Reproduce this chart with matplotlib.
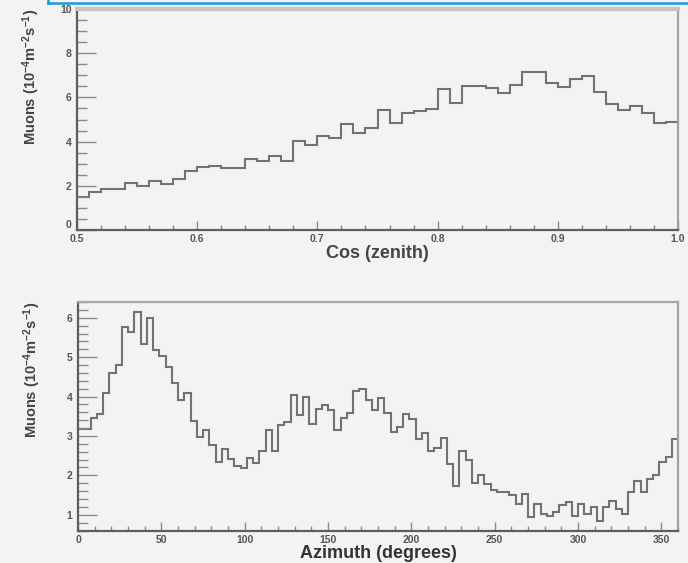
import numpy as np
import matplotlib
matplotlib.use("Agg")
import matplotlib.pyplot as plt
from matplotlib.lines import Line2D
from matplotlib.ticker import MultipleLocator, FixedLocator, FixedFormatter

# ---------------- data ----------------
zenith_range = [0.5, 1.0]
zenith_values = [1.51, 1.73, 1.84, 1.84, 2.11, 1.99, 2.23, 2.08, 2.29, 2.68,
                 2.86, 2.91, 2.79, 2.79, 3.20, 3.14, 3.35, 3.14, 4.04, 3.85,
                 4.25, 4.15, 4.80, 4.37, 4.60, 5.43, 4.83, 5.28, 5.40, 5.47,
                 6.37, 5.73, 6.52, 6.52, 6.41, 6.19, 6.56, 7.16, 7.16, 6.67,
                 6.46, 6.82, 6.97, 6.26, 5.70, 5.43, 5.61, 5.28, 4.86, 4.90]
zenith_ticks = [0.5, 0.6, 0.7, 0.8, 0.9, 1.0]
zenith_ticklabels = ["0.5", "0.6", "0.7", "0.8", "0.9", "1.0"]
zenith_yticks = [0, 2, 4, 6, 8, 10]

azimuth_range = [0, 360]
azimuth_values = [3.18, 3.18, 3.45, 3.56, 4.10, 4.60, 4.79, 5.76, 5.63, 6.14,
                  5.34, 5.99, 5.17, 5.04, 4.75, 4.35, 3.90, 4.10, 3.39, 2.97,
                  3.14, 2.78, 2.34, 2.67, 2.42, 2.23, 2.18, 2.44, 2.32, 2.63,
                  3.14, 2.63, 3.27, 3.35, 4.03, 3.52, 3.98, 3.31, 3.69, 3.79,
                  3.65, 3.14, 3.45, 3.59, 4.15, 4.20, 3.90, 3.65, 3.96, 3.59,
                  3.10, 3.22, 3.56, 3.44, 2.93, 3.08, 2.63, 2.69, 2.94, 2.29,
                  1.74, 2.63, 2.38, 1.81, 2.00, 1.79, 1.62, 1.57, 1.58, 1.49,
                  1.28, 1.53, 0.94, 1.28, 1.02, 0.98, 1.07, 1.24, 1.32, 0.98,
                  1.28, 1.02, 1.19, 0.85, 1.19, 1.34, 1.15, 1.02, 1.58, 1.85,
                  1.57, 1.90, 2.00, 2.34, 2.47, 2.93]
azimuth_ticks = [0, 50, 100, 150, 200, 250, 300, 350]
azimuth_yticks = [1, 2, 3, 4, 5, 6]
azimuth_ylim = [0.6, 6.4]

ylabel_text = r"Muons (10$^{-4}$m$^{-2}$s$^{-1}$)"
xlabel_top = "Cos (zenith)"
xlabel_bottom = "Azimuth (degrees)"

# ---------------- style ----------------
BG = "#f3f3f3"
plt.rcParams["font.family"] = ["Liberation Sans", "DejaVu Sans"]
plt.rcParams["font.weight"] = "bold"
plt.rcParams["mathtext.fontset"] = "custom"
plt.rcParams["mathtext.rm"] = "Liberation Sans:bold"
plt.rcParams["mathtext.it"] = "Liberation Sans:bold"
plt.rcParams["mathtext.bf"] = "Liberation Sans:bold"

W, H = 688, 563
fig = plt.figure(figsize=(W / 100, H / 100), dpi=100, facecolor=BG)

def px_axes(x0, y0, x1, y1):
    return fig.add_axes([x0 / W, 1 - y1 / H, (x1 - x0) / W, (y1 - y0) / H])

ax1 = px_axes(77, 9, 678, 230)
ax2 = px_axes(78, 302, 678, 530.5)

line_col = "#727272"
tick_col = "#555555"

def style(ax, top_col):
    ax.set_facecolor(BG)
    for s in ["left", "bottom"]:
        ax.spines[s].set_color("#5e5e5e")
        ax.spines[s].set_linewidth(1.6)
    ax.spines["right"].set_color("#a2a2a2")
    ax.spines["right"].set_linewidth(1.6)
    ax.spines["top"].set_color(top_col)
    ax.tick_params(axis="y", which="major", direction="in", length=14, width=1.0,
                   color="#8a8a8a", labelsize=7.5, labelcolor=tick_col, pad=4)
    ax.tick_params(axis="y", which="minor", direction="in", length=7, width=1.0,
                   color="#8a8a8a")
    ax.tick_params(axis="x", which="major", direction="in", length=6.5, width=1.0,
                   color="#8a8a8a", labelsize=7.5, labelcolor=tick_col, pad=3)
    ax.tick_params(axis="x", which="minor", direction="in", length=3.5, width=1.0,
                   color="#8a8a8a")

# ---------------- top panel ----------------
edges1 = np.linspace(zenith_range[0], zenith_range[1], len(zenith_values) + 1)
ax1.stairs(zenith_values, edges1, baseline=None, color=line_col, lw=1.5)
ax1.set_xlim(zenith_range)
ax1.set_ylim(0, 10)
ax1.xaxis.set_major_locator(FixedLocator(zenith_ticks))
ax1.xaxis.set_major_formatter(FixedFormatter(zenith_ticklabels))
ax1.xaxis.set_minor_locator(MultipleLocator(0.02))
ax1.yaxis.set_major_locator(FixedLocator(zenith_yticks))
ax1.yaxis.set_minor_locator(MultipleLocator(0.5))
style(ax1, "#c4c4c4")
ax1.spines["top"].set_linewidth(3)
ax1.set_xlabel(xlabel_top, fontsize=13, fontweight="bold", color="#444444")
ax1.xaxis.set_label_coords(0.5, -0.066)
ax1.set_ylabel(ylabel_text, fontsize=10.5, fontweight="bold", color="#444444", loc="top")
ax1.yaxis.set_label_coords(-0.058, 1.0)
fig.canvas.draw()
# lowest y tick label sits just above the corner so it does not collide with "0.5"
ax1.get_yticklabels()[0].set_verticalalignment("bottom")

# ---------------- bottom panel ----------------
edges2 = np.linspace(azimuth_range[0], azimuth_range[1], len(azimuth_values) + 1)
ax2.stairs(azimuth_values, edges2, baseline=None, color=line_col, lw=1.5)
ax2.set_xlim(azimuth_range)
ax2.set_ylim(azimuth_ylim)
ax2.xaxis.set_major_locator(FixedLocator(azimuth_ticks))
ax2.xaxis.set_minor_locator(MultipleLocator(10))
ax2.yaxis.set_major_locator(FixedLocator(azimuth_yticks))
ax2.yaxis.set_minor_locator(MultipleLocator(0.2))
style(ax2, "#a8a8a8")
ax2.spines["top"].set_linewidth(1.6)
ax2.set_xlabel(xlabel_bottom, fontsize=13, fontweight="bold", color="#333333")
ax2.xaxis.set_label_coords(0.5, -0.062)
ax2.set_ylabel(ylabel_text, fontsize=10.5, fontweight="bold", color="#444444", loc="top")
ax2.yaxis.set_label_coords(-0.058, 1.0)

# ---------------- blue selection frame at top ----------------
yb = 1 - 2.5 / H
fig.add_artist(Line2D([48 / W, 1.0], [yb, yb], transform=fig.transFigure,
                      color="#1c9ad6", lw=1.8))
fig.add_artist(Line2D([48 / W, 48 / W], [yb, 1.0], transform=fig.transFigure,
                      color="#1c9ad6", lw=1.8))

fig.savefig("out.png", dpi=100, facecolor=BG)
